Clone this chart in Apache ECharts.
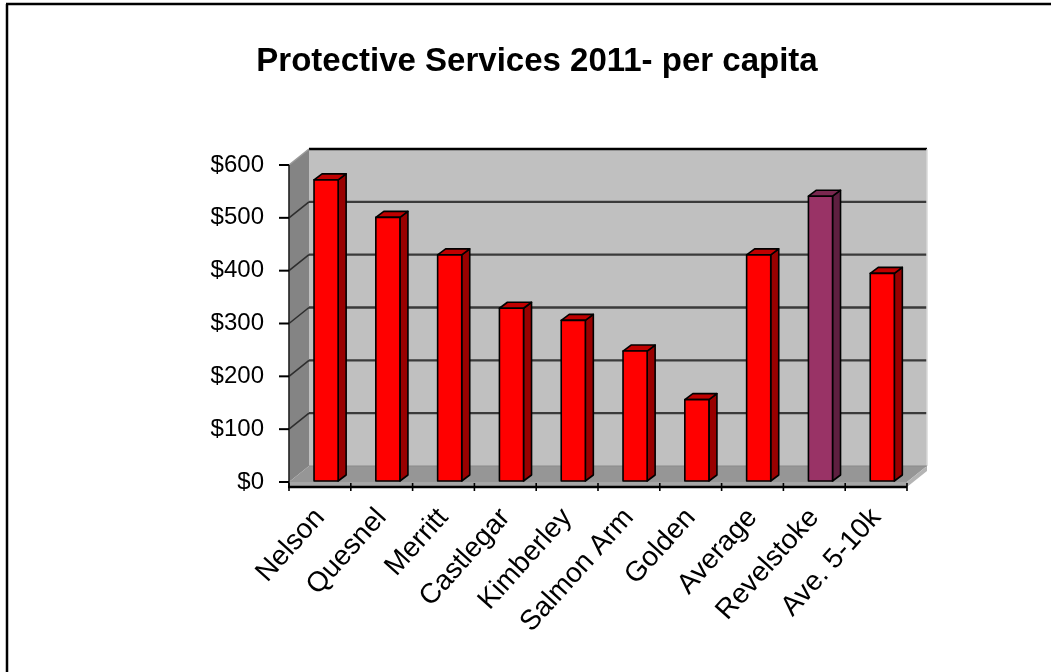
<!DOCTYPE html>
<html>
<head>
<meta charset="utf-8">
<title>Protective Services 2011 - per capita</title>
<script src="https://cdn.jsdelivr.net/npm/echarts@6/dist/echarts.min.js"></script>
<style>
  html, body { margin: 0; padding: 0; background: #ffffff; }
  #chart { width: 1051px; height: 672px; }
</style>
</head>
<body>
<div id="chart"></div>
<script>
// Per-capita protective services spending, 2011
const categories = ['Nelson', 'Quesnel', 'Merritt', 'Castlegar', 'Kimberley',
                    'Salmon Arm', 'Golden', 'Average', 'Revelstoke', 'Ave. 5-10k'];
const values = [570, 499, 428, 327, 304, 246, 154, 428, 539, 393];
const highlighted = ['Revelstoke'];
const yTicks = [0, 100, 200, 300, 400, 500, 600];

const FONT = '"Liberation Sans", Arial, sans-serif';
const DEPTH = [20, -16];          // offset of the back wall from the front plane
const BAR_DEPTH = [8, -6];        // depth of each column

const RED = { front: '#ff0000', side: '#990000', top: '#c00000' };
const PLUM = { front: '#993366', side: '#5e1f40', top: '#7a2850' };

const chart = echarts.init(document.getElementById('chart'));

// Walls, floor, gridlines and tick marks of the 3-D box
function renderScene(params, api) {
  const cs = params.coordSys;
  const x0 = cs.x, x1 = cs.x + cs.width;
  const yOf = v => api.coord([0, v])[1];
  const yMax = yOf(yTicks[yTicks.length - 1]);
  const y0 = yOf(0);
  const dx = DEPTH[0], dy = DEPTH[1];
  const children = [];

  // back wall
  children.push({ type: 'rect', shape: { x: x0 + dx, y: yMax + dy, width: x1 - x0, height: y0 - yMax },
    style: { fill: '#c0c0c0' } });
  // left wall
  children.push({ type: 'polygon', shape: { points: [[x0, yMax], [x0 + dx, yMax + dy], [x0 + dx, y0 + dy], [x0, y0]] },
    style: { fill: '#848484' } });
  // floor (top face, front strip, right end)
  children.push({ type: 'polygon', shape: { points: [[x0, y0], [x0 + dx, y0 + dy], [x1 + dx, y0 + dy], [x1, y0]] },
    style: { fill: '#969696' } });
  children.push({ type: 'polygon', shape: { points: [[x0, y0], [x1, y0], [x1, y0 + 5], [x0, y0 + 5]] },
    style: { fill: '#a6a6a6' } });
  children.push({ type: 'polygon', shape: { points: [[x1, y0], [x1 + dx, y0 + dy], [x1 + dx, y0 + dy + 5], [x1, y0 + 5]] },
    style: { fill: '#b4b4b4' } });

  // gridlines on back wall and left wall
  yTicks.forEach(v => {
    if (v === 0) return;
    const y = yOf(v);
    const isTop = v === yTicks[yTicks.length - 1];
    children.push({ type: 'line', shape: { x1: x0 + dx, y1: y + dy, x2: x1 + dx, y2: y + dy },
      style: { stroke: isTop ? '#000000' : '#3a3a3a', lineWidth: isTop ? 2.5 : 2.4 } });
    children.push({ type: 'line', shape: { x1: x0, y1: y, x2: x0 + dx, y2: y + dy },
      style: { stroke: isTop ? '#9a9a9a' : '#2e2e2e', lineWidth: 1.6 } });
  });
  // right edge of back wall
  children.push({ type: 'line', shape: { x1: x1 + dx, y1: yMax + dy, x2: x1 + dx, y2: y0 + dy },
    style: { stroke: '#d8d8d8', lineWidth: 1.5 } });
  // floor / back wall seam
  children.push({ type: 'line', shape: { x1: x0 + dx, y1: y0 + dy, x2: x1 + dx, y2: y0 + dy },
    style: { stroke: '#8a8a8a', lineWidth: 1 } });

  // value axis line and ticks
  children.push({ type: 'line', shape: { x1: x0, y1: yMax, x2: x0, y2: y0 + 5 },
    style: { stroke: '#202020', lineWidth: 1.6 } });
  yTicks.forEach(v => {
    const y = yOf(v);
    children.push({ type: 'line', shape: { x1: x0 - 10, y1: y, x2: x0, y2: y },
      style: { stroke: '#000000', lineWidth: 2 } });
  });
  // category axis line and ticks at band boundaries
  children.push({ type: 'line', shape: { x1: x0 - 1, y1: y0 + 5, x2: x1, y2: y0 + 5 },
    style: { stroke: '#000000', lineWidth: 2.5 } });
  const band = cs.width / categories.length;
  for (let i = 0; i <= categories.length; i++) {
    const x = x0 + band * i;
    children.push({ type: 'line', shape: { x1: x, y1: y0 + 1, x2: x, y2: y0 + 9 },
      style: { stroke: '#000000', lineWidth: 1.6 } });
  }
  return { type: 'group', children };
}

// One 3-D column per category
function renderColumn(params, api) {
  const idx = api.value(0);
  const top = api.coord([idx, api.value(1)]);
  const base = api.coord([idx, 0]);
  const band = api.size([1, 0])[0];
  const w = band * 0.39;
  const cx = top[0] + band * 0.1;
  const xl = cx - w / 2, xr = cx + w / 2;
  const yt = top[1] - 1, yb = base[1] - 1;
  const [bx, by] = BAR_DEPTH;
  const pal = highlighted.indexOf(categories[idx]) >= 0 ? PLUM : RED;
  const edge = { stroke: '#000000', lineWidth: 1.6, lineJoin: 'round' };
  return {
    type: 'group',
    children: [
      { type: 'polygon', shape: { points: [[xr, yt], [xr + bx, yt + by], [xr + bx, yb + by], [xr, yb]] },
        style: Object.assign({ fill: pal.side }, edge) },
      { type: 'polygon', shape: { points: [[xl, yt], [xl + bx, yt + by], [xr + bx, yt + by], [xr, yt]] },
        style: Object.assign({ fill: pal.top }, edge) },
      { type: 'rect', shape: { x: xl, y: yt, width: w, height: yb - yt },
        style: Object.assign({ fill: pal.front }, edge) }
    ]
  };
}

chart.setOption({
  animation: false,
  backgroundColor: '#ffffff',
  graphic: [
    { type: 'line', shape: { x1: 6, y1: 4, x2: 1051, y2: 4 }, style: { stroke: '#000', lineWidth: 2.5 } },
    { type: 'line', shape: { x1: 7, y1: 4, x2: 7, y2: 672 }, style: { stroke: '#000', lineWidth: 2.5 } },
    { type: 'text', x: 537, y: 62,
      style: { text: 'Protective Services 2011- per capita', textAlign: 'center', textVerticalAlign: 'middle',
               font: 'bold 33px ' + FONT, fill: '#000' } }
  ],
  grid: { left: 289, right: 144, top: 165, bottom: 190, containLabel: false },
  xAxis: {
    type: 'category',
    data: categories,
    axisLine: { show: false },
    axisTick: { show: false },
    splitLine: { show: false },
    axisLabel: { interval: 0, rotate: 48, margin: 31, fontSize: 28, fontFamily: FONT, color: '#000' }
  },
  yAxis: {
    type: 'value',
    min: 0, max: 600, interval: 100,
    axisLine: { show: false },
    axisTick: { show: false },
    splitLine: { show: false },
    axisLabel: { margin: 25, fontSize: 24, fontFamily: FONT, color: '#000', formatter: v => '$' + v }
  },
  series: [
    { type: 'custom', name: 'box', z: 1, silent: true, renderItem: renderScene, data: [[0, 0]] },
    { type: 'custom', name: 'Per capita', z: 2, renderItem: renderColumn,
      encode: { x: 0, y: 1 },
      data: values.map((v, i) => [i, v]) }
  ]
});
</script>
</body>
</html>
